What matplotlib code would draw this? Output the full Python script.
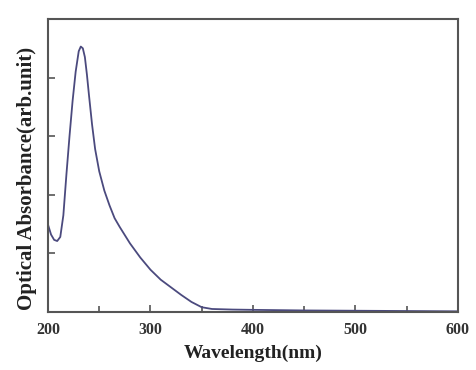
import matplotlib
matplotlib.use("Agg")
import matplotlib.pyplot as plt
from matplotlib.ticker import MultipleLocator, NullFormatter

wavelength = [200, 203, 206, 209, 212, 215, 218, 221, 224, 227, 230, 232, 234, 236,
              238, 240, 243, 246, 250, 255, 260, 265, 270, 280, 290, 300, 310, 320,
              330, 340, 350, 360, 380, 400, 450, 500, 550, 600]
absorbance = [1.49, 1.32, 1.23, 1.21, 1.28, 1.65, 2.35, 3.0, 3.6, 4.1, 4.45, 4.53, 4.5, 4.35,
              4.05, 3.7, 3.2, 2.78, 2.4, 2.07, 1.82, 1.6, 1.45, 1.17, 0.93, 0.72, 0.55, 0.42,
              0.29, 0.17, 0.08, 0.05, 0.04, 0.035, 0.025, 0.02, 0.015, 0.01]
xticks = [200, 300, 400, 500, 600]

plt.rcParams['font.family'] = ['Liberation Serif', 'DejaVu Serif']
fig = plt.figure(figsize=(4.77, 3.70), dpi=100)
ax = fig.add_axes([0.1006, 0.157, 0.8594, 0.7916])
ax.plot(wavelength, absorbance, color='#4b4a7e', lw=1.3)
ax.set_xlim(200, 600)
ax.set_ylim(0, 5)
ax.set_xticks(xticks)
ax.xaxis.set_minor_locator(MultipleLocator(50))
ax.set_yticks([1, 2, 3, 4])
ax.yaxis.set_major_formatter(NullFormatter())
ax.tick_params(axis='both', which='both', direction='in', color='#555555', width=1.2)
ax.tick_params(axis='both', which='major', length=5)
ax.tick_params(axis='x', which='minor', length=4)
ax.tick_params(axis='x', labelsize=11.5, pad=7, labelcolor='#333333')
for lab in ax.get_xticklabels():
    lab.set_fontweight('bold')
for s in ax.spines.values():
    s.set_color('#555555')
    s.set_linewidth(1.5)
ax.set_xlabel('Wavelength(nm)', fontsize=14, fontweight='bold', labelpad=5, color='#222222')
ax.set_ylabel('Optical Absorbance(arb.unit)', fontsize=15, fontweight='bold',
              color='#222222', va='center')
ax.yaxis.set_label_coords(-0.051, 0.454)
fig.savefig('out.png', dpi=100)
